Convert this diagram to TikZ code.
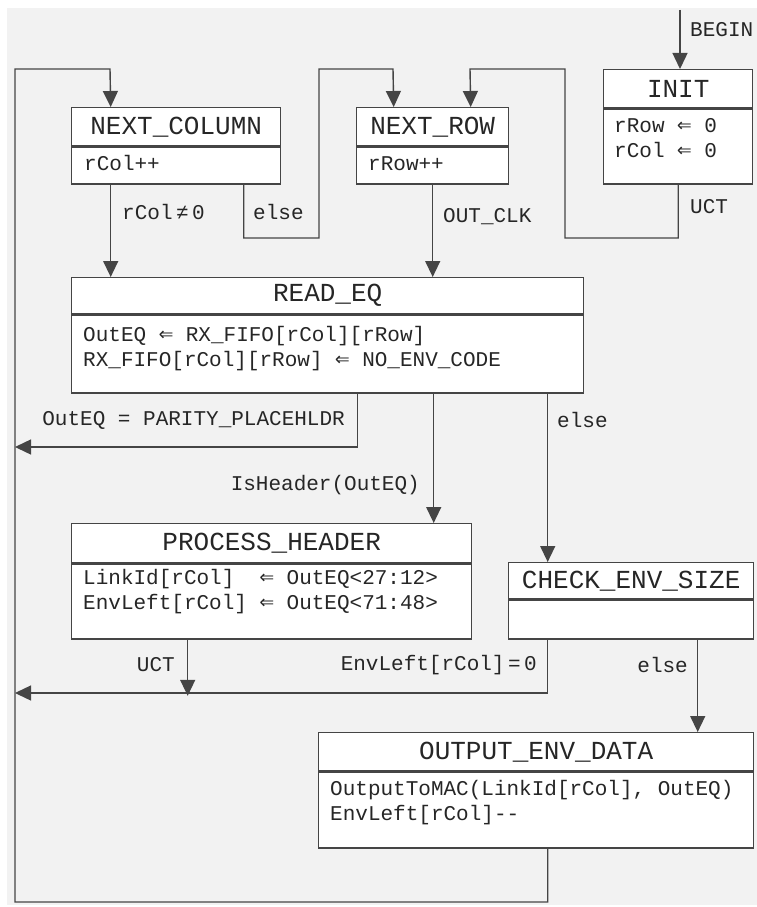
\documentclass[tikz,border=0pt]{standalone}
\usepackage{fontspec}
\setmonofont{Liberation Mono}
\newfontfamily\arrowfont{DejaVu Sans Mono}
\usetikzlibrary{arrows.meta}
\definecolor{linec}{HTML}{454545}
\definecolor{textc}{HTML}{262626}
\definecolor{bgc}{HTML}{F2F2F2}
\newcommand{\getsfrom}{{\arrowfont\fontsize{24}{25}\selectfont ⇐}}

\begin{document}
\begin{tikzpicture}[x=1pt, y=-1pt,
  ttl/.style={draw=linec, fill=white, line width=1.4pt, anchor=north west, inner sep=0pt,
    minimum height=38pt, text=textc, font=\fontsize{26}{30}\selectfont\ttfamily},
  bdy/.style={draw=linec, fill=white, line width=1.4pt, anchor=north west, inner sep=0pt},
  txt/.style={anchor=base west, inner sep=0pt, align=left, text=textc,
    font=\fontsize{21}{25}\selectfont\ttfamily},
  lbl/.style={inner sep=0pt, text=textc, font=\fontsize{21}{25}\selectfont\ttfamily},
  arr/.style={-{Triangle[length=16pt, width=15pt]}, draw=linec, line width=1.4pt}]
\useasboundingbox (0,0) rectangle (757,907);
\fill[bgc] (7,8) rectangle (757,905);
% states
\node[ttl, minimum width=209pt] (nextcol) at (71,107) {NEXT\_COLUMN};
\node[bdy, minimum width=209pt, minimum height=37pt] (nextcol-b) at (nextcol.south west) {};
\node[txt] (nextcol-t) at (84,170) {rCol++};
\node[ttl, minimum width=152pt] (nextrow) at (356,107) {NEXT\_ROW};
\node[bdy, minimum width=152pt, minimum height=37pt] (nextrow-b) at (nextrow.south west) {};
\node[txt] (nextrow-t) at (368,170) {rRow++};
\node[ttl, minimum width=149pt] (init) at (603,69) {INIT};
\node[bdy, minimum width=149pt, minimum height=75pt] (init-b) at (init.south west) {};
% base of a two-line text is its last line
\node[txt] (init-t) at (614,157) {rRow \getsfrom{} 0\\rCol \getsfrom{} 0};
\node[ttl, minimum width=512pt, minimum height=36pt] (readeq) at (71,277) {READ\_EQ};
\node[bdy, minimum width=512pt, minimum height=78pt] (readeq-b) at (readeq.south west) {};
\node[txt] (readeq-t) at (83,366) {OutEQ \getsfrom{} RX\_FIFO[rCol][rRow]\\RX\_FIFO[rCol][rRow] \getsfrom{} NO\_ENV\_CODE};
\node[ttl, minimum width=400pt, minimum height=39pt] (prochdr) at (71,523) {PROCESS\_HEADER};
\node[bdy, minimum width=400pt, minimum height=75pt] (prochdr-b) at (prochdr.south west) {};
\node[txt] (prochdr-t) at (83,609) {LinkId[rCol]\ \ \getsfrom{} OutEQ<27:12>\\EnvLeft[rCol] \getsfrom{} OutEQ<71:48>};
\node[ttl, minimum width=245pt, minimum height=36pt] (chksize) at (508,562) {CHECK\_ENV\_SIZE};
\node[bdy, minimum width=245pt, minimum height=39pt] (chksize-b) at (chksize.south west) {};
\node[ttl, minimum width=435pt] (outdata) at (318,732) {OUTPUT\_ENV\_DATA};
\node[bdy, minimum width=435pt, minimum height=76pt] (outdata-b) at (outdata.south west) {};
\node[txt] (outdata-t) at (330,820) {OutputToMAC(LinkId[rCol], OutEQ)\\EnvLeft[rCol]--};
% entry and init
\coordinate (start) at (680,10);
\draw[arr] (start) -- (start |- init.north);
\node[lbl, anchor=west] (begin-l) at (690,30) {BEGIN};
\draw[arr] (init-b.south) |- (565,238) |- (470,69) -- ([xshift=38pt]nextrow.north);
\node[lbl, anchor=west] (uct-l1) at (690,207) {UCT};
% next row / next column
\draw[arr] (nextrow-b.south) -- (nextrow-b.south |- readeq.north);
\node[lbl, anchor=west] (outclk-l) at (443,217) {OUT\_CLK};
\draw[arr] ([xshift=-65.5pt]nextcol-b.south) -- ([xshift=-65.5pt]nextcol-b.south |- readeq.north);
\node[lbl, anchor=west] (rcol-l) at (122,212) {rCol\,≠\,0};
\draw[arr] ([xshift=67.5pt]nextcol-b.south) |- (319,238) |- (393,69) -- ([xshift=-39pt]nextrow.north);
\node[lbl, anchor=west] (else-l1) at (253,212) {else};
% read
\draw[arr] ([xshift=30pt]readeq-b.south) |- (15,447);
\node[lbl, anchor=east] (parity-l) at (345,420) {OutEQ = PARITY\_PLACEHLDR};
\draw[arr] ([xshift=106pt]readeq-b.south) -- ([xshift=106pt]readeq-b.south |- prochdr.north);
\node[lbl, anchor=east] (hdr-l) at (420,485) {IsHeader(OutEQ)};
\draw[arr] ([xshift=220pt]readeq-b.south) -- ([xshift=220pt]readeq-b.south |- chksize.north);
\node[lbl, anchor=west] (else-l2) at (557,420) {else};
% header / size check
\draw[arr] ([xshift=-84pt]prochdr-b.south) -- ++(0,56);
\node[lbl, anchor=east] (uct-l2) at (175,665) {UCT};
\draw[arr] ([xshift=-83.5pt]chksize-b.south) |- (15,693);
\node[lbl, anchor=east] (zero-l) at (537,665) {EnvLeft[rCol]\,=\,0};
\draw[arr] ([xshift=66.5pt]chksize-b.south) -- ([xshift=66.5pt]chksize-b.south |- outdata.north);
\node[lbl, anchor=east] (else-l3) at (688,665) {else};
% back to next column
\draw[arr] ([xshift=11.5pt]outdata-b.south) |- (15,902) |- (110,69) -- ([xshift=-65.5pt]nextcol.north);
\end{tikzpicture}
\end{document}
